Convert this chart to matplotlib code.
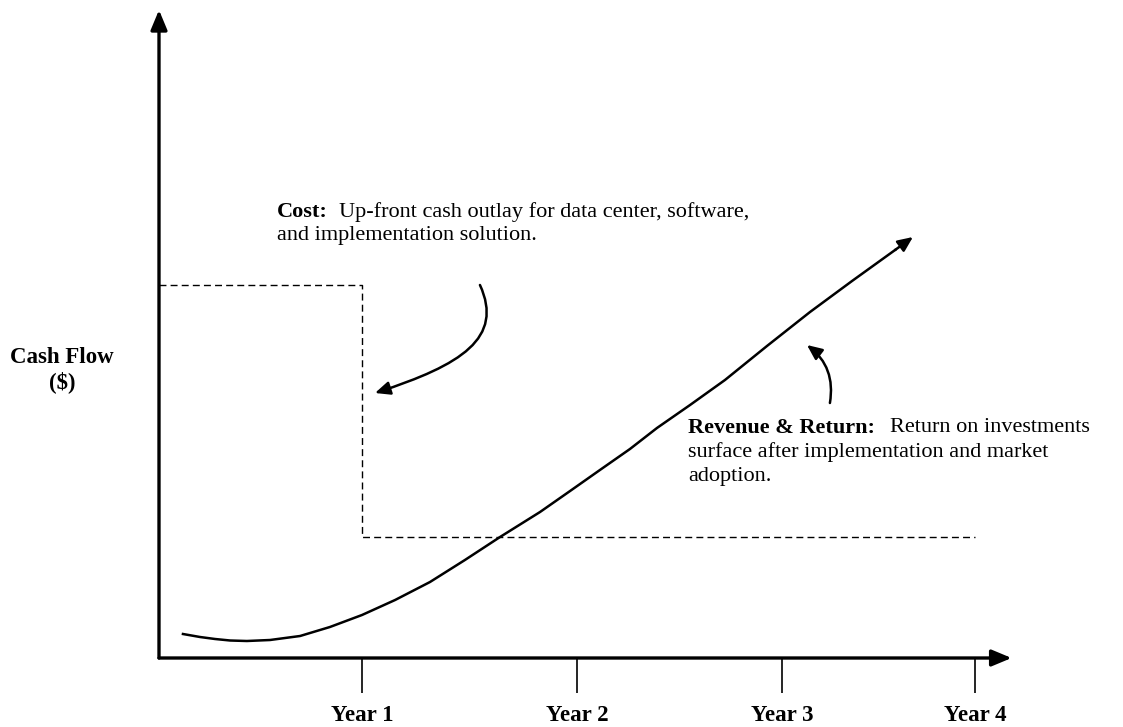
import matplotlib.pyplot as plt
from matplotlib.patches import FancyArrowPatch
from matplotlib.path import Path

plt.rcParams["font.family"] = ["Liberation Serif", "DejaVu Serif"]

# x in "year" units, y in cash-flow units (arbitrary)
year_labels = ["Year 1", "Year 2", "Year 3", "Year 4"]
year_pos = [1.0, 2.06, 3.07, 4.02]

cost_x = [0.0, 1.0, 1.0, 4.02]
cost_y = [3.73, 3.73, 1.21, 1.21]

rev_x = [0.118, 0.202, 0.276, 0.350, 0.433, 0.547, 0.695, 0.842, 1.000, 1.163, 1.335,
         1.507, 1.680, 1.877, 2.025, 2.172, 2.320, 2.453, 2.616, 2.788, 2.995, 3.207,
         3.414, 3.626]
rev_y = [0.24, 0.21, 0.19, 0.175, 0.17, 0.18, 0.22, 0.31, 0.43, 0.58, 0.76,
         0.98, 1.21, 1.46, 1.67, 1.88, 2.09, 2.30, 2.53, 2.78, 3.12, 3.46,
         3.77, 4.08]
rev_tip = (3.714, 4.21)

fig = plt.figure(figsize=(11.23, 7.27), dpi=100)
ax = fig.add_axes([159 / 1123, 69 / 727, 4.2 * 203 / 1123, 648 / 727])
ax.set_xlim(0, 4.2)
ax.set_ylim(0, 6.48)
for s in ax.spines.values():
    s.set_visible(False)

# axes drawn as arrows
for end in [(4.2, 0), (0, 6.48)]:
    a = FancyArrowPatch((0, 0), end, arrowstyle="-|>,head_length=12,head_width=5",
                        lw=2.4, color="black", shrinkA=0, shrinkB=0, clip_on=False)
    ax.add_patch(a)

ax.set_yticks([])
ax.set_xticks(year_pos)
ax.set_xticklabels(year_labels, fontsize=16.5, fontweight="bold")
ax.tick_params(axis="x", length=25, width=1.2, direction="out", pad=9)

# cost (dashed step)
ax.plot(cost_x, cost_y, color="black", lw=1.0, ls=(0, (5, 3)))

# revenue curve
ax.plot(rev_x, rev_y, color="black", lw=1.8, solid_joinstyle="round")
ax.add_patch(FancyArrowPatch((rev_x[-1], rev_y[-1]), rev_tip,
                             arrowstyle="-|>,head_length=9,head_width=4",
                             lw=1.8, color="black", shrinkA=0, shrinkB=0))

# y label
fig.text(62 / 1123, 1 - 357 / 727, "Cash Flow", ha="center", va="center",
         fontsize=16.5, fontweight="bold")
fig.text(62 / 1123, 1 - 382 / 727, "($)", ha="center", va="center",
         fontsize=16.5, fontweight="bold")

# cost annotation
fs = 16
c1 = ax.text(0.58, 4.46, "Cost:", fontsize=fs, fontweight="bold", va="center")
ax.annotate("Up-front cash outlay for data center, software,", xy=(1, 0.5),
            xycoords=c1, xytext=(8, 0), textcoords="offset points",
            fontsize=fs, va="center")
ax.text(0.58, 4.225, "and implementation solution.", fontsize=fs, va="center")

cost_path = Path([(1.581, 3.73), (1.70, 3.20), (1.49, 2.93), (1.064, 2.65)],
                 [Path.MOVETO, Path.CURVE4, Path.CURVE4, Path.CURVE4])
ax.add_patch(FancyArrowPatch(path=cost_path, arrowstyle="-|>,head_length=9,head_width=4",
                             lw=1.8, color="black"))

# revenue annotation
r1 = ax.text(2.606, 2.30, "Revenue & Return:", fontsize=fs, fontweight="bold", va="center")
ax.annotate("Return on investments", xy=(1, 0.5), xycoords=r1, xytext=(11, 0),
            textcoords="offset points", fontsize=fs, va="center")
ax.text(2.606, 2.055, "surface after implementation and market", fontsize=fs, va="center")
ax.text(2.606, 1.81, "adoption.", fontsize=fs, va="center")

ax.add_patch(FancyArrowPatch((3.305, 2.55), (3.192, 3.13),
                             connectionstyle="arc3,rad=0.3",
                             arrowstyle="-|>,head_length=9,head_width=4",
                             lw=1.8, color="black", shrinkA=0, shrinkB=0))

fig.savefig("out.png", dpi=100)
